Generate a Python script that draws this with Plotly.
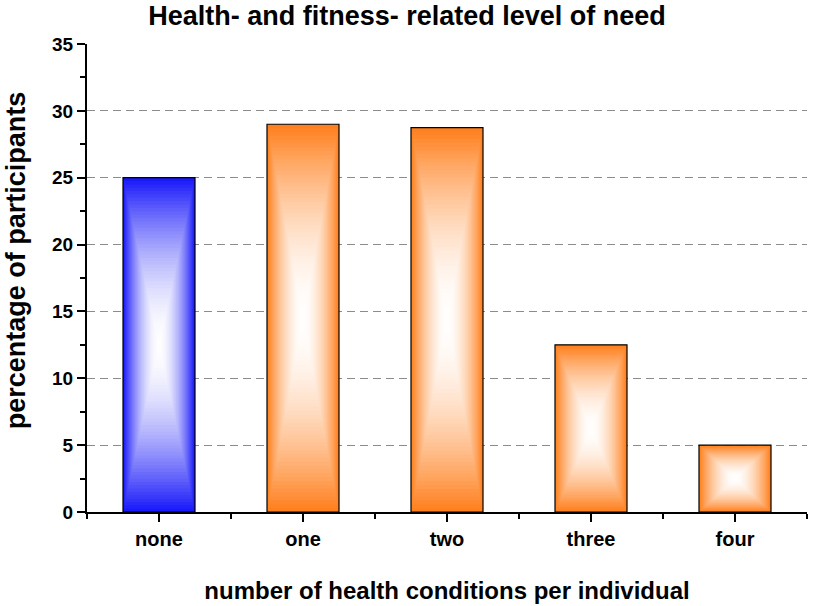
import plotly.graph_objects as go

categories = ["none", "one", "two", "three", "four"]
percentages = [25, 29, 28.75, 12.5, 5]
edge_colors = [(25, 25, 250), (255, 128, 30), (255, 128, 30), (255, 128, 30), (255, 128, 30)]

W, H = 814, 606
x_range = [-0.5, 4.5]
y_range = [0, 35]
bar_width = 0.5

xs = list(range(len(categories)))
fig = go.Figure()

# Origin style rectangular gradient: colour at the edges, white in the centre.
# Drawn as stacked, shrinking bars centred on each bar.
n_layers = 50
for k in range(n_layers):
    frac = k / n_layers
    s = 1 - frac
    widths, heights, bases, colors = [], [], [], []
    for h, c in zip(percentages, edge_colors):
        widths.append(bar_width * s)
        bases.append(h * frac / 2)
        heights.append(h * s)
        amt = s ** 1.8
        colors.append("rgb(%d,%d,%d)" % tuple(int(255 - (255 - v) * amt) for v in c))
    fig.add_trace(go.Bar(x=xs, y=heights, base=bases, width=widths,
                         marker=dict(color=colors, line_width=0),
                         hoverinfo="skip", showlegend=False))

# outline
fig.add_trace(go.Bar(x=xs, y=percentages, width=bar_width,
                     marker=dict(color="rgba(0,0,0,0)", line=dict(color="black", width=1.2)),
                     showlegend=False))

fig.update_layout(
    barmode="overlay",
    width=W, height=H,
    margin=dict(l=87, r=7, t=44, b=94),
    plot_bgcolor="white",
    paper_bgcolor="white",
    font=dict(family="Liberation Sans, Arial", color="black"),
    title=dict(text="<b>Health- and fitness- related level of need</b>",
               x=0.5, xref="container", xanchor="center",
               y=0.974, yanchor="middle",
               font=dict(size=27)),
    annotations=[dict(text="<b>percentage of participants</b>", textangle=-90,
                      xref="paper", yref="paper", x=0, y=0.538,
                      xanchor="center", yanchor="middle", xshift=-71,
                      showarrow=False, font=dict(size=27))],
)
fig.update_xaxes(
    range=x_range, tickvals=xs, ticktext=["<b>%s</b>" % c for c in categories],
    tickfont=dict(size=20),
    showline=True, linewidth=2, linecolor="black",
    ticks="outside", ticklen=8, tickwidth=2, tickcolor="black",
    minor=dict(tick0=0.5, dtick=1, ticks="outside", ticklen=5, tickwidth=2, tickcolor="black"),
    showgrid=False, zeroline=False,
    title=dict(text="<b>number of health conditions per individual</b>",
               font=dict(size=24), standoff=33),
)
fig.update_yaxes(
    range=y_range, dtick=5,
    tickfont=dict(size=19),
    tickprefix="<b>", ticksuffix="</b>",
    showline=True, linewidth=2, linecolor="black",
    ticks="outside", ticklen=8, tickwidth=2, tickcolor="black",
    minor=dict(dtick=2.5, ticks="outside", ticklen=5, tickwidth=2, tickcolor="black"),
    showgrid=True, gridcolor="#8c8c8c", griddash="8px,5px", gridwidth=1,
    zeroline=False,
)

# no page margin, so the figure fills the window like the reference
fig.write_html("out.html", config={"displayModeBar": False},
               post_script="document.body.style.margin='0';")
